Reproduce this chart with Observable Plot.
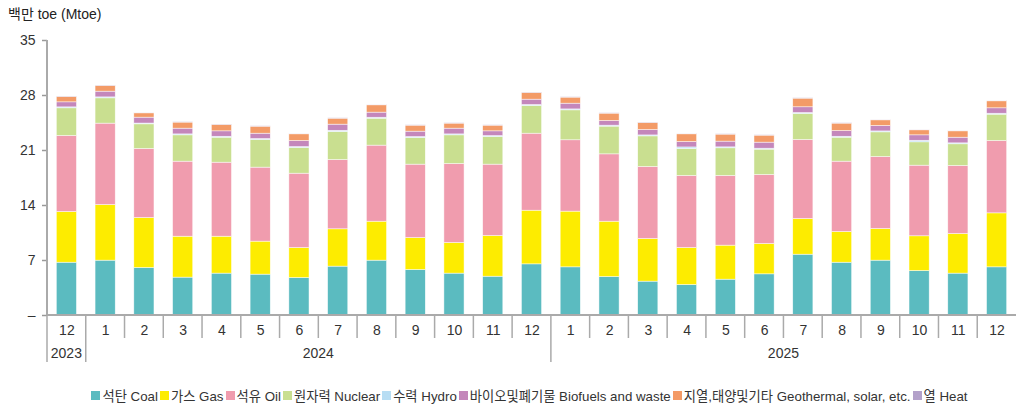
<!DOCTYPE html>
<html>
<head>
<meta charset="utf-8">
<script src="https://cdn.jsdelivr.net/npm/d3@7"></script>
<script src="https://cdn.jsdelivr.net/npm/@observablehq/plot@0.6"></script>
<style>
  html, body { margin: 0; padding: 0; background: #fff; }
  body { width: 1017px; height: 404px; overflow: hidden; font-family: "Liberation Sans", "Noto Sans CJK KR", sans-serif; color: #333; }
  #title { height: 26px; font-size: 14px; line-height: 28px; padding-left: 8px; color: #222; }
  #legend { display: flex; justify-content: center; align-items: center; padding-top: 7px; padding-left: 42px; height: 24px; font-size: 13.3px; color: #333; white-space: nowrap; }
  #legend .item { display: flex; align-items: center; margin: 0 1px; }
  #legend .sw { width: 9px; height: 9px; margin-right: 2px; }
  svg { display: block; }
</style>
</head>
<body>
<div id="title">백만 toe (Mtoe)</div>
<div id="chart"></div>
<div id="legend"></div>
<script>
// ---- data ----
const keys = ["2023-12","2024-01","2024-02","2024-03","2024-04","2024-05","2024-06","2024-07","2024-08","2024-09","2024-10","2024-11","2024-12",
              "2025-01","2025-02","2025-03","2025-04","2025-05","2025-06","2025-07","2025-08","2025-09","2025-10","2025-11","2025-12"];
const monthLabels = ["12","1","2","3","4","5","6","7","8","9","10","11","12","1","2","3","4","5","6","7","8","9","10","11","12"];
const years = ["2023","2024","2025"];
const yTicks = [0, 7, 14, 21, 28, 35];

const seriesNames = ["석탄 Coal","가스 Gas","석유 Oil","원자력 Nuclear","수력 Hydro","바이오및폐기물 Biofuels and waste","지열,태양및기타 Geothermal, solar, etc.","열 Heat"];
const seriesColors = ["#5bbbc0","#fdec00","#f09cae","#c9df90","#b7ddf3","#c487bb","#f39b67","#b3a1ca"];

const coal    = [6.72,6.98,6.05,4.82,5.33,5.20,4.77,6.22,6.98,5.79,5.33,4.94,6.51, 6.13,4.90,4.31,3.88,4.56,5.24,7.74,6.72,6.98,5.66,5.33,6.13];
const gas     = [6.45,7.08,6.36,5.21,4.70,4.20,3.82,4.75,4.96,4.07,3.90,5.18,6.83, 7.09,7.04,5.43,4.71,4.33,3.86,4.54,3.91,4.03,4.42,5.04,6.87];
const oil     = [9.68,10.36,8.78,9.55,9.42,9.42,9.46,8.82,9.68,9.34,10.05,9.08,9.80, 9.08,8.57,9.16,9.17,8.87,8.78,10.06,8.95,9.16,8.99,8.66,9.21];
const nuclear = [3.52,3.22,3.14,3.35,3.18,3.52,3.27,3.57,3.43,3.39,3.65,3.52,3.53, 3.81,3.53,3.90,3.43,3.52,3.23,3.31,3.05,3.14,2.97,2.76,3.35];
const hydro   = [0.12,0.12,0.10,0.12,0.12,0.12,0.12,0.15,0.12,0.12,0.12,0.12,0.12, 0.12,0.12,0.12,0.20,0.12,0.12,0.12,0.12,0.12,0.20,0.12,0.12];
const biofuel = [0.64,0.73,0.75,0.73,0.69,0.68,0.77,0.78,0.65,0.69,0.73,0.60,0.68, 0.73,0.60,0.69,0.69,0.73,0.77,0.73,0.73,0.69,0.69,0.72,0.69];
const geo     = [0.68,0.72,0.55,0.77,0.81,0.89,0.85,0.76,0.93,0.76,0.64,0.72,0.85, 0.77,0.93,0.89,0.98,0.89,0.89,1.10,0.94,0.72,0.64,0.81,0.89];
const heat    = [0.05,0.05,0.05,0.05,0.05,0.05,0.05,0.05,0.05,0.05,0.05,0.05,0.05, 0.05,0.05,0.05,0.05,0.05,0.05,0.05,0.05,0.05,0.05,0.05,0.05];

const seriesValues = [coal, gas, oil, nuclear, hydro, biofuel, geo, heat];
const data = [];
seriesNames.forEach((name, s) => {
  keys.forEach((k, i) => data.push({key: k, series: name, value: seriesValues[s][i]}));
});
const monthOf = new Map(keys.map((k, i) => [k, monthLabels[i]]));

const font = '"Liberation Sans", "Noto Sans CJK KR", sans-serif';

const chart = Plot.plot({
  width: 1017,
  height: 350,
  marginTop: 14,
  marginBottom: 61,
  marginLeft: 47,
  marginRight: 1,
  style: {fontFamily: font, color: "#333", background: "#fff", overflow: "visible"},
  x: {domain: keys, paddingInner: 0.48, paddingOuter: 0.24, round: false, axis: null, label: null},
  y: {domain: [0, 35], axis: null, label: null},
  color: {domain: seriesNames, range: seriesColors},
  marks: [
    Plot.axisY({ticks: yTicks, label: null, tickFormat: d => d === 0 ? "–" : String(d), tickSize: 5, tickPadding: 7, fontSize: 14, stroke: "#999", strokeWidth: 1.5, fill: "#333"}),
    Plot.barY(data, {x: "key", y: "value", fill: "series", order: seriesNames, stroke: "white", strokeWidth: 0.6, strokeOpacity: 0.8}),
    Plot.axisX({label: null, tickFormat: k => monthOf.get(k), tickSize: 0, tickPadding: 10, fontSize: 14, fill: "#333"})
  ]
});
document.getElementById("chart").appendChild(chart);

// ---- axis lines, separators and year labels from the scales ----
const xs = chart.scale("x");
const ys = chart.scale("y");
const step = xs.step;
const gapHalf = (step - xs.bandwidth) / 2;
const y0 = ys.apply(0);
const yTop = ys.apply(35);
const left = k => xs.apply(k) - gapHalf;
const right = k => xs.apply(k) + xs.bandwidth + gapHalf;
const svg = d3.select(chart);
const g = svg.append("g").attr("stroke", "#aaa");
// separators
keys.forEach((k, i) => {
  const isYearStart = i === 0 || k.endsWith("-01");
  g.append("line").attr("x1", left(k)).attr("x2", left(k)).attr("y1", y0).attr("y2", y0 + (isYearStart ? 47 : 23)).attr("stroke-width", 1.5);
});
// y axis line
g.append("line").attr("x1", left(keys[0])).attr("x2", left(keys[0])).attr("y1", yTop).attr("y2", y0).attr("stroke-width", 2);
// x axis line
g.append("line").attr("x1", left(keys[0])).attr("x2", right(keys[keys.length - 1])).attr("y1", y0).attr("y2", y0).attr("stroke-width", 2);
// year labels
years.forEach(yr => {
  const ks = keys.filter(k => k.startsWith(yr));
  const cx = (left(ks[0]) + right(ks[ks.length - 1])) / 2;
  svg.append("text").attr("x", cx).attr("y", y0 + 38).attr("dy", "0.35em")
    .attr("text-anchor", "middle").attr("font-size", 14).attr("fill", "#333").attr("font-family", font).text(yr);
});

// ---- legend ----
const legend = d3.select("#legend");
seriesNames.forEach((name, i) => {
  const it = legend.append("div").attr("class", "item");
  it.append("div").attr("class", "sw").style("background", seriesColors[i]);
  it.append("span").text(name);
});
</script>
</body>
</html>
